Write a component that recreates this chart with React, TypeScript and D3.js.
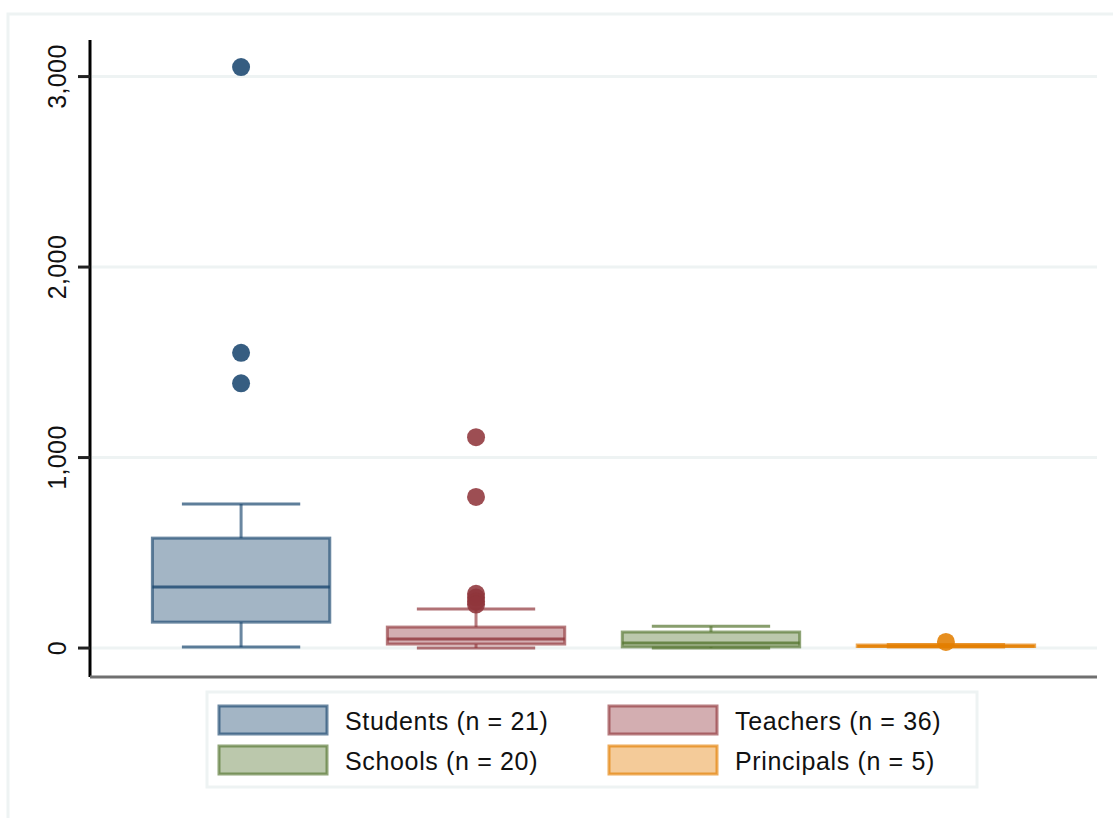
import React from "react";
import * as d3 from "d3";

const categories = ["Students", "Teachers", "Schools", "Principals"];
const counts = [21, 36, 20, 5];
const whiskerLow = [5, 0, 0, 6];
const q1 = [136, 21, 6, 8];
const median = [320, 47, 26, 10];
const q3 = [577, 110, 84, 16];
const whiskerHigh = [756, 205, 115, 18];
const outliers: number[][] = [
  [3050, 1550, 1390],
  [1107, 793, 285, 265, 245, 228],
  [],
  [32],
];
const colors = ["rgb(26,71,111)", "rgb(144,53,59)", "rgb(85,117,47)", "rgb(227,126,0)"];
const yTicks = [0, 1000, 2000, 3000];

const W = 1113;
const H = 818;
const left = 90;
const right = 1097;
const top = 40;
const bottom = 677;

export default function App() {
  const x = d3.scalePoint<string>().domain(categories).range([left, right]).padding(0.643);
  const y = d3.scaleLinear().domain([-152, 3192]).range([bottom, top]);
  const boxW = x.step() * 0.755;
  const capW = boxW * 0.667;
  const fmt = d3.format(",");
  const font = "'Liberation Sans', Arial, sans-serif";

  const legendItems = categories.map((c, i) => ({
    label: `${c} (n = ${counts[i]})`,
    color: colors[i],
    col: i % 2,
    row: Math.floor(i / 2),
  }));

  return (
    <svg width={W} height={H} style={{ position: "absolute", left: 0, top: 0, background: "#fff" }}>
      {/* outer frame */}
      <rect x={8} y={14} width={W + 20} height={H + 20} fill="none" stroke="#eef3f3" strokeWidth={3} />
      {/* gridlines */}
      {yTicks.map((t) => (
        <line key={"g" + t} x1={left + 2} x2={right} y1={y(t)} y2={y(t)} stroke="#eef3f3" strokeWidth={3} />
      ))}
      {/* boxes */}
      {categories.map((c, i) => {
        const cx = x(c)!;
        const col = colors[i];
        return (
          <g key={c}>
            <line x1={cx} x2={cx} y1={y(whiskerHigh[i])} y2={y(q3[i])} stroke={col} strokeOpacity={0.65} strokeWidth={3} />
            <line x1={cx} x2={cx} y1={y(q1[i])} y2={y(whiskerLow[i])} stroke={col} strokeOpacity={0.65} strokeWidth={3} />
            <line x1={cx - capW / 2} x2={cx + capW / 2} y1={y(whiskerHigh[i])} y2={y(whiskerHigh[i])} stroke={col} strokeOpacity={0.7} strokeWidth={3} />
            <line x1={cx - capW / 2} x2={cx + capW / 2} y1={y(whiskerLow[i])} y2={y(whiskerLow[i])} stroke={col} strokeOpacity={0.7} strokeWidth={3} />
            <rect
              x={cx - boxW / 2}
              y={y(q3[i])}
              width={boxW}
              height={Math.max(0.5, y(q1[i]) - y(q3[i]))}
              fill={col}
              fillOpacity={0.4}
              stroke={col}
              strokeOpacity={0.65}
              strokeWidth={3}
            />
            <line x1={cx - boxW / 2} x2={cx + boxW / 2} y1={y(median[i])} y2={y(median[i])} stroke={col} strokeOpacity={0.8} strokeWidth={3} />
            {outliers[i].map((v, j) => (
              <circle key={j} cx={cx} cy={y(v)} r={9} fill={col} fillOpacity={0.88} />
            ))}
          </g>
        );
      })}
      {/* y axis */}
      <line x1={left} x2={left} y1={top} y2={bottom} stroke="#000" strokeWidth={3} />
      {yTicks.map((t) => (
        <g key={"t" + t}>
          <line x1={left - 12} x2={left} y1={y(t)} y2={y(t)} stroke="#222" strokeWidth={3} />
          <text
            transform={`translate(${57},${y(t)}) rotate(-90)`}
            textAnchor="middle"
            dominantBaseline="central"
            fontFamily={font}
            fontSize={25}
            letterSpacing={0.4}
            fill="#111"
          >
            {fmt(t)}
          </text>
        </g>
      ))}
      {/* x axis */}
      <line x1={left} x2={right} y1={bottom} y2={bottom} stroke="#707070" strokeWidth={3} />
      {/* legend */}
      <rect x={207} y={692} width={770} height={95} fill="#fff" stroke="#eef3f3" strokeWidth={3} />
      {legendItems.map((it) => {
        const sx = it.col === 0 ? 219 : 609;
        const sy = 706 + it.row * 40;
        return (
          <g key={it.label}>
            <rect x={sx} y={sy} width={108} height={28} fill={it.color} fillOpacity={0.4} stroke={it.color} strokeOpacity={0.65} strokeWidth={3} />
            <text x={sx + 126} y={sy + 15} dominantBaseline="central" fontFamily={font} fontSize={25} letterSpacing={0.65} fill="#111">
              {it.label}
            </text>
          </g>
        );
      })}
    </svg>
  );
}
